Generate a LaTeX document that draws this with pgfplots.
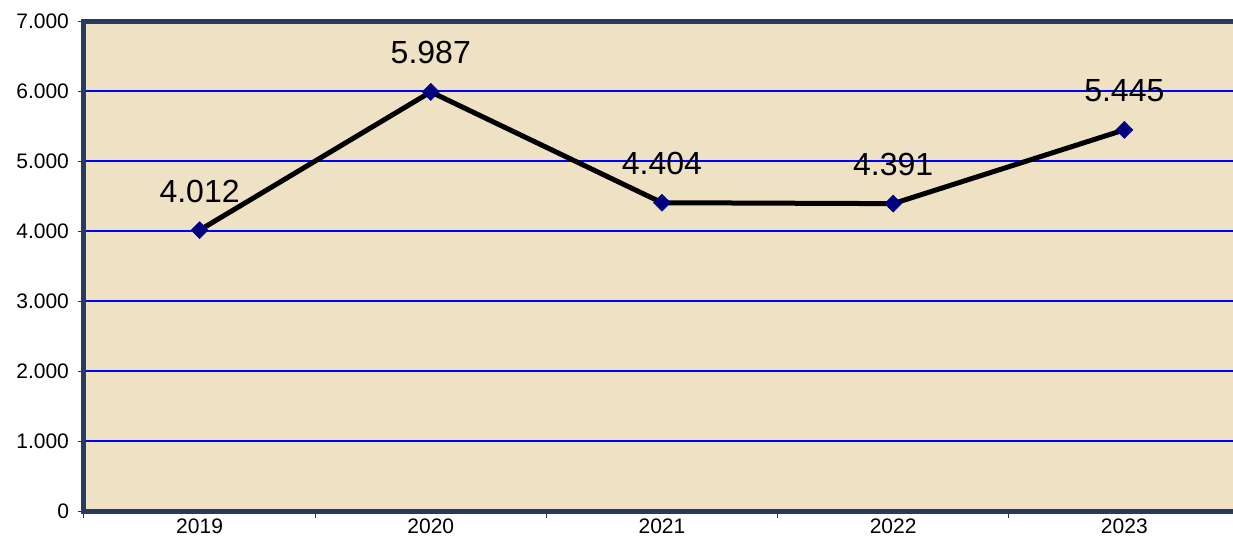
\documentclass[border=0pt]{standalone}
\usepackage{pgfplots}
\pgfplotsset{compat=1.18}
\usepackage{fontspec}
\setmainfont{Liberation Sans}
\definecolor{bgbeige}{RGB}{239,226,196}
\definecolor{framenavy}{RGB}{38,60,94}
\definecolor{marknavy}{RGB}{0,0,128}
\begin{document}
\begin{tikzpicture}[x=1pt,y=1pt]
\useasboundingbox (-42,-12.5) rectangle (574.5,255.5);
\begin{axis}[
  at={(0,0)}, anchor=south west,
  scale only axis, width=574.5pt, height=245pt,
  xmin=-0.5, xmax=4.47, ymin=0, ymax=7000,
  axis line style={draw=none},
  axis background/.style={fill=bgbeige},
  xtick={0,1,2,3,4},
  xticklabels={2019,2020,2021,2022,2023},
  minor xtick={-0.5,0.5,1.5,2.5,3.5},
  major x tick style={draw=none},
  xtick pos=bottom, ytick pos=left,
  ytick={0,1000,...,7000},
  tick align=outside,
  major tick length=3pt,
  minor tick length=3.5pt,
  tick style={black!80, line width=0.5pt},
  ymajorgrids,
  grid style={blue, line width=1pt},
  /pgf/number format/.cd, 1000 sep={.}, assume math mode=true,
  /pgfplots/.cd,
  ticklabel style={font=\fontsize{10.5}{12}\selectfont},
  yticklabel style={xshift=-1pt},
  xticklabel style={yshift=2.5pt},
  nodes near coords,
  nodes near coords style={font=\fontsize{16}{18}\selectfont, anchor=base, yshift=14pt, text=black},
  clip=false,
  after end axis/.code={
    \draw[framenavy, line width=2.5pt] (rel axis cs:1,1) -- (rel axis cs:0,1) -- (rel axis cs:0,0) -- (rel axis cs:1,0);
  },
]
\addplot[black, line width=2.5pt, mark=square*, mark size=3pt,
  mark options={rotate=45, fill=marknavy, draw=marknavy, line width=0.3pt}]
  coordinates {(0,4012) (1,5987) (2,4404) (3,4391) (4,5445)};
\end{axis}
\end{tikzpicture}
\end{document}
